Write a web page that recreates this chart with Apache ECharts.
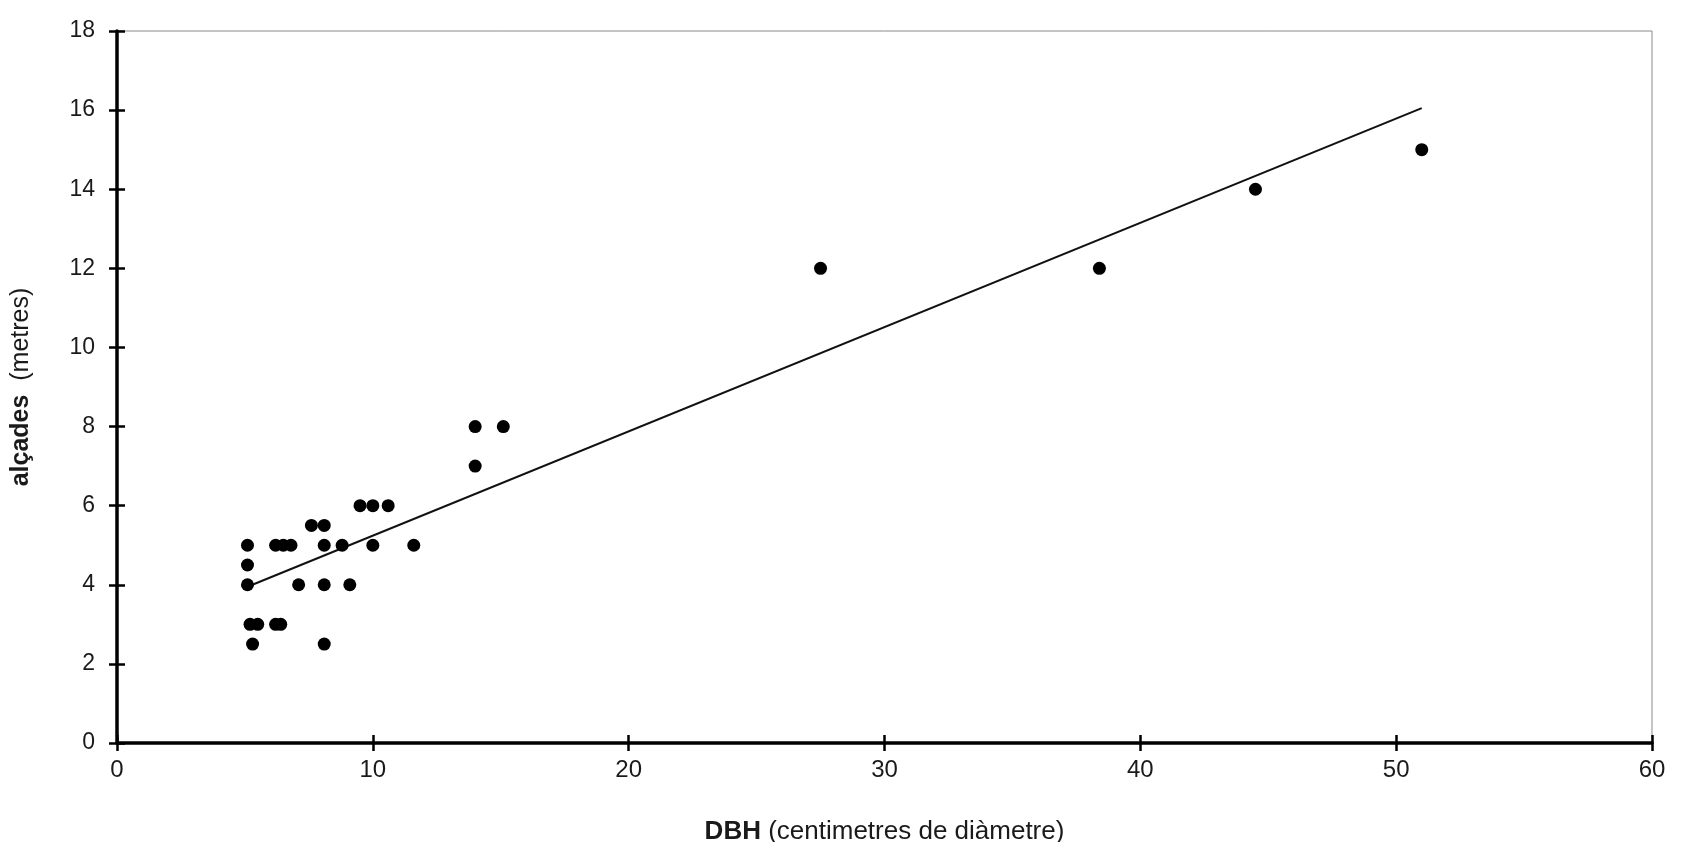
<!DOCTYPE html>
<html lang="ca">
<head>
    <meta charset="UTF-8">
    <title>alçades vs DBH</title>
    <script src="https://cdn.jsdelivr.net/npm/echarts@6/dist/echarts.min.js"></script>
    <style>
        html, body { margin: 0; padding: 0; background: #fff; }
    </style>
</head>
<body>
    <div id="chart" style="width:1685px;height:842px;"></div>
<script>
    // DBH (cm) i alçada (m) de cada arbre
    const dbh = [5.1, 5.1, 5.1, 5.2, 5.5, 6.2, 6.4, 5.3, 6.2, 6.5, 6.8, 7.1, 7.6, 8.1, 8.1, 8.1, 8.1, 8.8, 9.1, 9.5, 10, 10.6, 10, 11.6, 14, 14, 15.1, 27.5, 38.4, 44.5, 51];
    const alcada = [5, 4.5, 4, 3, 3, 3, 3, 2.5, 5, 5, 5, 4, 5.5, 5.5, 5, 4, 2.5, 5, 4, 6, 6, 6, 5, 5, 7, 8, 8, 12, 12, 14, 15];

    // recta de regressió (extrems llegits del gràfic)
    const trendX = [5.1, 51];
    const trendY = [3.95, 16.05];

    const xTicks = [0, 10, 20, 30, 40, 50, 60];
    const yTicks = [0, 2, 4, 6, 8, 10, 12, 14, 16, 18];

    const FONT = '"Liberation Sans", Arial, sans-serif';
    const INK = '#1a1a1a';

    var chart = echarts.init(document.getElementById('chart'));

    var points = dbh.map((x, i) => [x, alcada[i]]);
    var trend = trendX.map((x, i) => [x, trendY[i]]);

    var xBase = {
        type: 'value',
        min: xTicks[0],
        max: xTicks[xTicks.length - 1],
        interval: 10,
        position: 'bottom',
        splitLine: { show: false },
    };
    var yBase = {
        type: 'value',
        min: yTicks[0],
        max: yTicks[yTicks.length - 1],
        interval: 2,
        position: 'left',
        splitLine: { show: false },
    };

    var options = {
        backgroundColor: '#fff',
        animation: false,
        grid: {
            left: 117,
            right: 33,
            top: 31,
            bottom: 99,
            containLabel: false,
            outerBoundsMode: 'none',
            show: true,
            borderColor: '#8a8a8a',
            borderWidth: 1,
        },
        xAxis: [
            Object.assign({}, xBase, {
                name: '{b|DBH} (centimetres de diàmetre)',
                nameLocation: 'middle',
                nameGap: 76,
                nameTextStyle: {
                    fontFamily: FONT,
                    fontSize: 26,
                    color: INK,
                    rich: {
                        b: { fontFamily: FONT, fontSize: 26, fontWeight: 'bold', color: INK },
                    },
                },
                axisLine: { show: true, onZero: false, lineStyle: { color: '#000', width: 3.5 } },
                axisTick: { show: true, inside: false, length: 8, lineStyle: { color: '#000', width: 2.5 } },
                axisLabel: { margin: 15, fontFamily: FONT, fontSize: 24, color: INK },
            }),
            // segona capa per a les marques que travessen l'eix
            Object.assign({}, xBase, {
                axisLine: { show: false },
                axisTick: { show: true, inside: true, length: 8, lineStyle: { color: '#000', width: 2.5 } },
                axisLabel: { show: false },
            }),
        ],
        yAxis: [
            Object.assign({}, yBase, {
                name: '{b|alçades}  (metres)',
                nameLocation: 'middle',
                nameGap: 83,
                nameRotate: 90,
                nameTextStyle: {
                    fontFamily: FONT,
                    fontSize: 25,
                    color: INK,
                    rich: {
                        b: { fontFamily: FONT, fontSize: 25, fontWeight: 'bold', color: INK },
                    },
                },
                axisLine: { show: true, onZero: false, lineStyle: { color: '#000', width: 3.5 } },
                axisTick: { show: true, inside: false, length: 8, lineStyle: { color: '#000', width: 2.5 } },
                axisLabel: { margin: 22, fontFamily: FONT, fontSize: 23, color: INK },
            }),
            Object.assign({}, yBase, {
                axisLine: { show: false },
                axisTick: { show: true, inside: true, length: 8, lineStyle: { color: '#000', width: 2.5 } },
                axisLabel: { show: false },
            }),
        ],
        series: [{
            name: 'regressió',
            type: 'line',
            xAxisIndex: 0,
            yAxisIndex: 0,
            data: trend,
            showSymbol: false,
            lineStyle: { color: '#111', width: 2 },
            z: 2,
        }, {
            name: 'arbres',
            type: 'scatter',
            xAxisIndex: 0,
            yAxisIndex: 0,
            data: points,
            symbol: 'circle',
            symbolSize: 13,
            itemStyle: { color: '#000', opacity: 1 },
            z: 3,
        }],
    };

    chart.setOption(options);
</script>
</body>
</html>
